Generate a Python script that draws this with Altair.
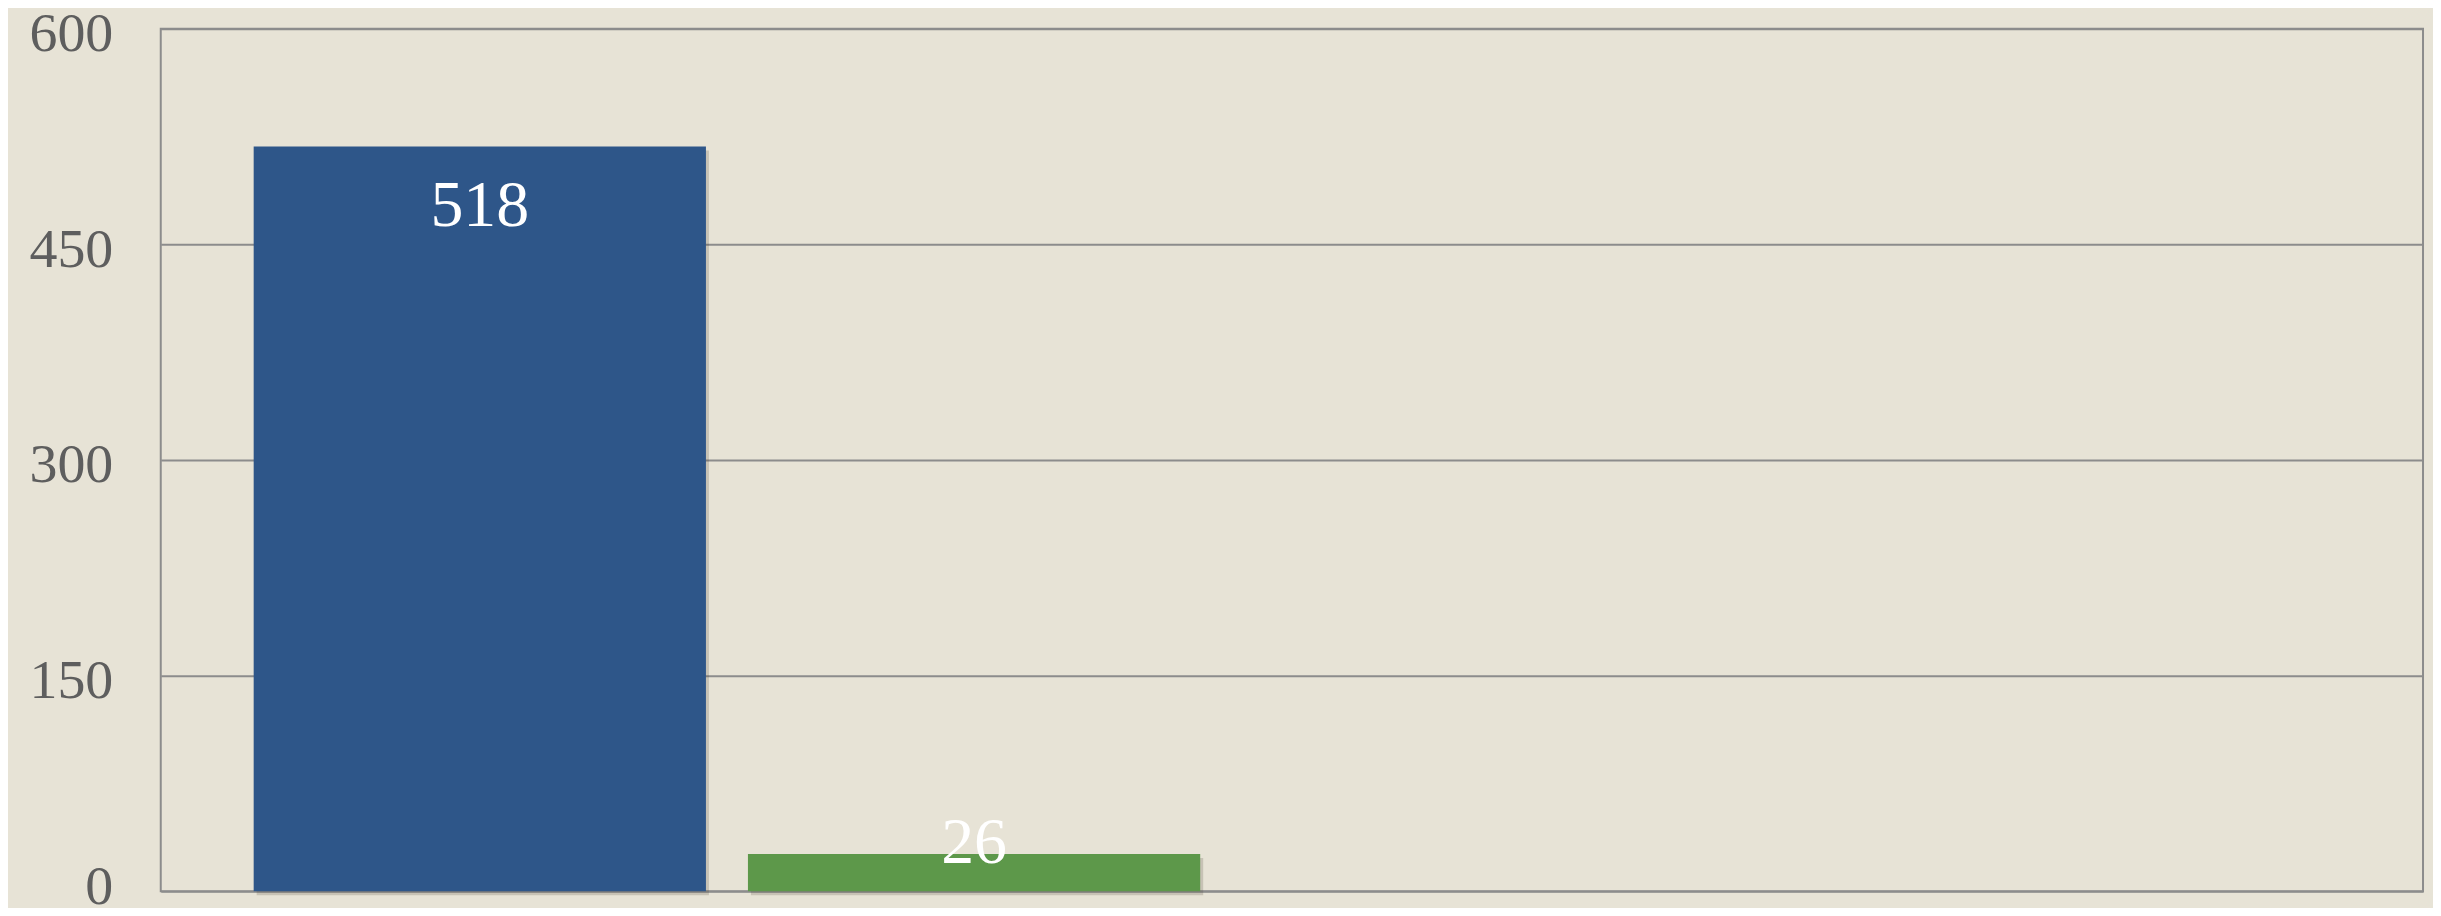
import altair as alt
import pandas as pd

categories = ["Series 1", "Series 2"]
empty_slots = ["Series 3", "Series 4"]
values = [518, 26]
bar_colors = ["#2e5689", "#5d984a"]
y_ticks = [0, 150, 300, 450, 600]

df = pd.DataFrame({"category": categories, "value": values})

FONT = "Liberation Serif, Times New Roman, serif"
x_domain = categories + empty_slots

x_enc = alt.X(
    "category:N",
    axis=None,
    scale=alt.Scale(domain=x_domain, paddingInner=0.085, paddingOuter=0.331, align=0.284),
)
y_scale = alt.Scale(domain=[0, 600], nice=False)
y_axis = alt.Axis(
    values=y_ticks,
    title=None,
    domain=False,
    ticks=False,
    grid=True,
    gridColor="#8c8c8c",
    gridWidth=2,
    labelFont=FONT,
    labelFontSize=56,
    labelColor="#5e5e5e",
    labelPadding=48,
    labelBaseline="middle",
    labelOffset={"condition": {"test": "datum.value == 0", "value": -5}, "value": 5},
    minExtent=153,
    maxExtent=153,
)

shadow = alt.Chart(df).mark_bar(
    color="#4a4030", opacity=0.2, xOffset=3, yOffset=4
).encode(
    x=x_enc,
    y=alt.Y("value:Q", scale=y_scale, axis=y_axis),
)

bars = alt.Chart(df).mark_bar().encode(
    x=x_enc,
    y=alt.Y("value:Q", scale=y_scale, axis=y_axis),
    color=alt.Color("category:N", scale=alt.Scale(domain=categories, range=bar_colors), legend=None),
)

labels = alt.Chart(df).transform_calculate(
    label_pos="max(datum.value - 55.5, 20)"
).mark_text(
    font=FONT, fontSize=66, color="white", baseline="alphabetic", align="center"
).encode(
    x=x_enc,
    y=alt.Y("label_pos:Q", scale=y_scale, axis=y_axis),
    text=alt.Text("value:Q"),
)

chart = alt.layer(shadow, bars, labels).properties(
    width=2266,
    height=864,
    autosize=alt.AutoSizeParams(type="none"),
    padding={"left": 153, "top": 20, "right": 10, "bottom": 16},
    background="#e7e3d6",
).configure_view(
    stroke="#8c8c8c",
    strokeWidth=2,
)

chart.save("out.html", embed_options={"renderer": "svg", "actions": False})
